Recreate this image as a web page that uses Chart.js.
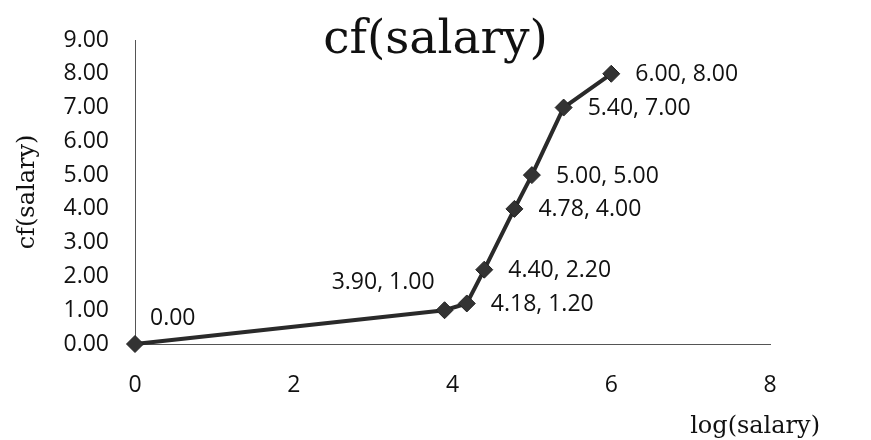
<!DOCTYPE html>
<html>
<head>
<meta charset="utf-8">
<title>cf(salary)</title>
<script src="https://cdn.jsdelivr.net/npm/chart.js@4"></script>
<style>
  html, body { margin: 0; background: #fff; }
  #wrap { width: 871px; height: 440px; }
</style>
</head>
<body>
<div id="wrap"><canvas id="cfChart" width="871" height="440"></canvas></div>
<script>
// cumulative frequency against log(salary)
const logSalary = [0, 3.90, 4.18, 4.40, 4.78, 5.00, 5.40, 6.00];
const cfSalary = [0, 1.00, 1.20, 2.20, 4.00, 5.00, 7.00, 8.00];
const xTicks = [0, 2, 4, 6, 8];
const yTicks = [0, 1, 2, 3, 4, 5, 6, 7, 8, 9];

// where each value label sits next to its marker
const labelSide = ['upRight', 'upLeft', 'right', 'right', 'right', 'right', 'right', 'right'];

const TICK_FONT = '"Open Sans", sans-serif';
const SERIF = '"DejaVu Serif", serif';

const pointLabels = {
  id: 'pointLabels',
  afterDatasetsDraw(chart) {
    const ctx = chart.ctx;
    const meta = chart.getDatasetMeta(0);
    ctx.save();
    ctx.font = '23px ' + TICK_FONT;
    ctx.fillStyle = '#111';
    ctx.textBaseline = 'middle';
    meta.data.forEach((pt, i) => {
      const text = i === 0
        ? cfSalary[i].toFixed(2)
        : logSalary[i].toFixed(2) + ', ' + cfSalary[i].toFixed(2);
      const side = labelSide[i];
      if (side === 'upLeft') {
        ctx.textAlign = 'right';
        ctx.fillText(text, pt.x - 10, pt.y - 28);
      } else if (side === 'upRight') {
        ctx.textAlign = 'left';
        ctx.fillText(text, pt.x + 15, pt.y - 26);
      } else {
        ctx.textAlign = 'left';
        ctx.fillText(text, pt.x + 24, pt.y + 1);
      }
    });
    ctx.restore();
  }
};

// chart heading centred on the whole canvas, and the x caption past the end of the axis
const captions = {
  id: 'captions',
  afterDraw(chart) {
    const ctx = chart.ctx;
    const area = chart.chartArea;
    ctx.save();
    ctx.fillStyle = '#111';
    ctx.textBaseline = 'middle';

    ctx.font = '47px ' + SERIF;
    ctx.textAlign = 'center';
    ctx.fillText('cf(salary)', chart.width / 2, 41);

    ctx.font = '24px ' + SERIF;
    ctx.textAlign = 'right';
    ctx.fillText('log(salary)', area.right + 50, area.bottom + 83);
    ctx.restore();
  }
};

new Chart(document.getElementById('cfChart'), {
  type: 'scatter',
  data: {
    datasets: [{
      label: 'cf(salary)',
      data: logSalary.map((x, i) => ({ x: x, y: cfSalary[i] })),
      showLine: true,
      clip: false,
      borderColor: '#2a2a2a',
      borderWidth: 4,
      pointStyle: 'rectRot',
      pointRadius: 8.5,
      pointBackgroundColor: '#333',
      pointBorderColor: '#222',
      pointBorderWidth: 1,
      tension: 0
    }]
  },
  options: {
    responsive: false,
    animation: false,
    layout: { padding: { left: 0, right: 101, top: 40, bottom: 0 } },
    plugins: {
      legend: { display: false },
      tooltip: { enabled: false },
      title: { display: false }
    },
    scales: {
      x: {
        type: 'linear',
        min: xTicks[0],
        max: xTicks[xTicks.length - 1],
        afterFit: s => { s.height = 96; },
        afterBuildTicks: s => { s.ticks = xTicks.map(v => ({ value: v })); },
        grid: { display: false, drawTicks: false },
        border: { display: true, color: '#555', width: 1 },
        ticks: {
          color: '#111',
          padding: 28,
          font: { family: TICK_FONT, size: 23 },
          callback: v => String(v)
        }
      },
      y: {
        min: yTicks[0],
        max: yTicks[yTicks.length - 1],
        afterFit: s => { s.width = 135; },
        afterBuildTicks: s => { s.ticks = yTicks.map(v => ({ value: v })); },
        grid: { display: false, drawTicks: false },
        border: { display: true, color: '#555', width: 1 },
        ticks: {
          color: '#111',
          padding: 26,
          font: { family: TICK_FONT, size: 23 },
          callback: v => Number(v).toFixed(2)
        },
        title: {
          display: true,
          text: 'cf(salary)',
          color: '#111',
          font: { family: SERIF, size: 24 },
          padding: { top: 13 }
        }
      }
    }
  },
  plugins: [pointLabels, captions]
});
</script>
</body>
</html>
